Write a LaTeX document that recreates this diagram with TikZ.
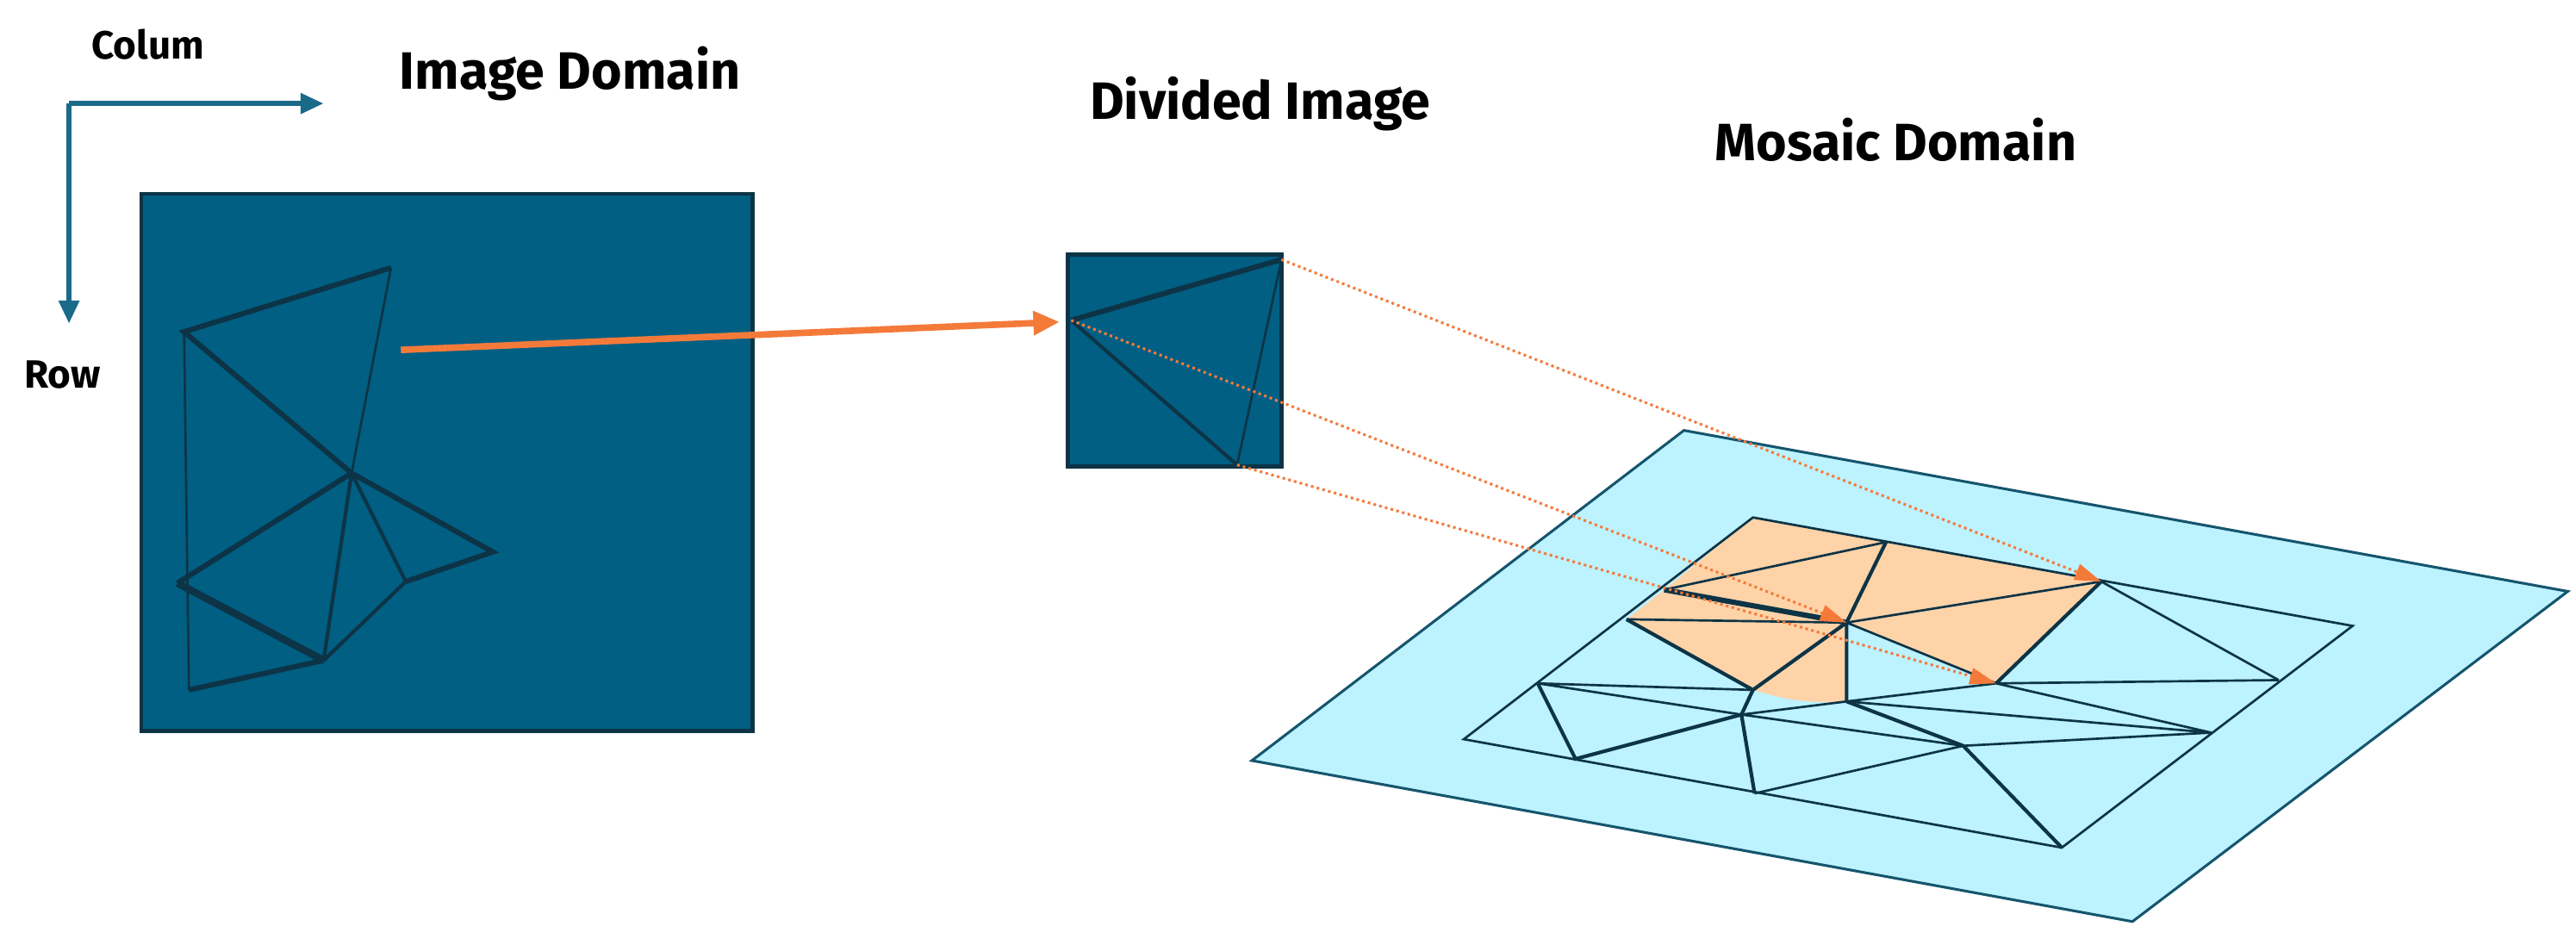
\documentclass[tikz,border=0pt]{standalone}
\usepackage{fontspec}
\setmainfont{Fira Sans}
\usetikzlibrary{arrows.meta}
\definecolor{deep}{HTML}{005F83}
\definecolor{edge}{HTML}{0D3446}
\definecolor{axis}{HTML}{1A6A8A}
\definecolor{org}{HTML}{F47A3A}
\definecolor{sky}{HTML}{BDF2FF}
\definecolor{peach}{HTML}{FFD3A8}
\begin{document}
\begin{tikzpicture}[x=0.5pt,y=-0.5pt,
  lbl/.style={font=\bfseries\fontsize{16}{18}\selectfont},
  ax/.style={line width=1.6pt,draw=axis,-{Triangle[length=7pt,width=6pt]}},
  mesh/.style={draw=edge,line width=1.1pt},
  tmesh/.style={draw=edge,line width=0.7pt},
  dot/.style={draw=org,line width=0.8pt,densely dotted,-{Triangle[length=8pt,width=5pt]}}]
\useasboundingbox (0,0) rectangle (1568,575);
% axes
\coordinate (o) at (42,63); \coordinate (ox) at (197,63); \coordinate (oy) at (42,197);
\draw[ax] (o) -- (ox); \draw[ax] (o) -- (oy);
\node[lbl,font=\bfseries\fontsize{12}{14}\selectfont] (colum) at (90,27) {Colum};
\node[lbl,font=\bfseries\fontsize{12}{14}\selectfont] (row) at (38,228) {Row};
\node[lbl] (t1) at (347,45) {Image Domain};
\node[lbl] (t2) at (767,63) {Divided Image};
\node[lbl] (t3) at (1154,85) {Mosaic Domain};
% image domain
\draw[fill=deep,draw=edge,line width=1.2pt] (86,118) rectangle (458,445);
\coordinate (A) at (238,163); \coordinate (B) at (112,202); \coordinate (C) at (214,288);
\coordinate (D) at (108,355); \coordinate (E) at (300,336); \coordinate (F) at (247,354);
\coordinate (G) at (197,402); \coordinate (H) at (115,420);
\draw[mesh,line width=1.6pt] (A) -- (B) -- (C) -- (D) (C) -- (E) -- (F) (G) -- (H);
\draw[mesh] (C) -- (F) -- (G) (C) -- (G);
\draw[tmesh] (A) -- (C) (B) -- (H);
\draw[mesh,line width=2.2pt] (D) -- (G);
% divided image
\draw[fill=deep,draw=edge,line width=1.2pt] (650,155) rectangle (780,284);
\coordinate (P1) at (780,158); \coordinate (P2) at (652,195); \coordinate (P3) at (753,283);
\draw[mesh,line width=1.6pt] (P2) -- (P1); \draw[mesh] (P2) -- (P3); \draw[tmesh] (P1) -- (P3);
\coordinate (s) at (244,213); \coordinate (se) at (645,196);
\draw[draw=org,line width=2pt,-{Triangle[length=8pt,width=7pt]}] (s) -- (se);
% mosaic
\draw[fill=sky,draw=axis!80!black,line width=0.8pt] (1025,262) -- (1563,360) -- (1298,561) -- (762,463) -- cycle;
\coordinate (I1) at (1067,315); \coordinate (I2) at (1432,381); \coordinate (I3) at (1255,516); \coordinate (I4) at (891,450);
\coordinate (m1) at (1148,330); \coordinate (m2) at (1279,354); \coordinate (m3) at (1013,359);
\coordinate (m4) at (990,377); \coordinate (m5) at (1124,379); \coordinate (m6) at (1215,416);
\coordinate (m7) at (1067,420); \coordinate (m8) at (1124,427); \coordinate (m9) at (936,416);
\coordinate (m10) at (1060,435); \coordinate (m11) at (959,462); \coordinate (m12) at (1068,483);
\coordinate (m13) at (1195,454); \coordinate (m14) at (1346,446); \coordinate (m15) at (1387,414);
\fill[peach] (I1) -- (m1) -- (m2) -- (m6) -- (m5) -- (m8) to[bend left=10] (m7) -- (m4) -- (m3) -- cycle;
\draw[tmesh] (I1) -- (I2) -- (I3) -- (I4) -- cycle;
\draw[mesh] (m2) -- (m6) (m1) -- (m5) -- (m7) -- (m4) (m5) -- (m8) (m7) -- (m10) -- (m11) -- (m9) (m10) -- (m12) (m8) -- (m13) -- (I3);
\draw[mesh,line width=1.6pt] (m3) -- (m5);
\draw[tmesh] (m3) -- (m1) (m4) -- (m5) -- (m2) (m5) -- (m6) (m2) -- (m15) (m9) -- (m7) (m9) -- (m10) (m10) -- (m8) (m13) -- (m12) (m13) -- (m14) (m6) -- (m15) (m6) -- (m14) (m8) -- (m14) (m6) -- (m8) (m10) -- (m13);
% dotted mappings
\draw[dot] (P1) -- (m2);
\draw[dot] (P2) -- (m5);
\draw[dot] (P3) -- (m6);
\end{tikzpicture}
\end{document}
